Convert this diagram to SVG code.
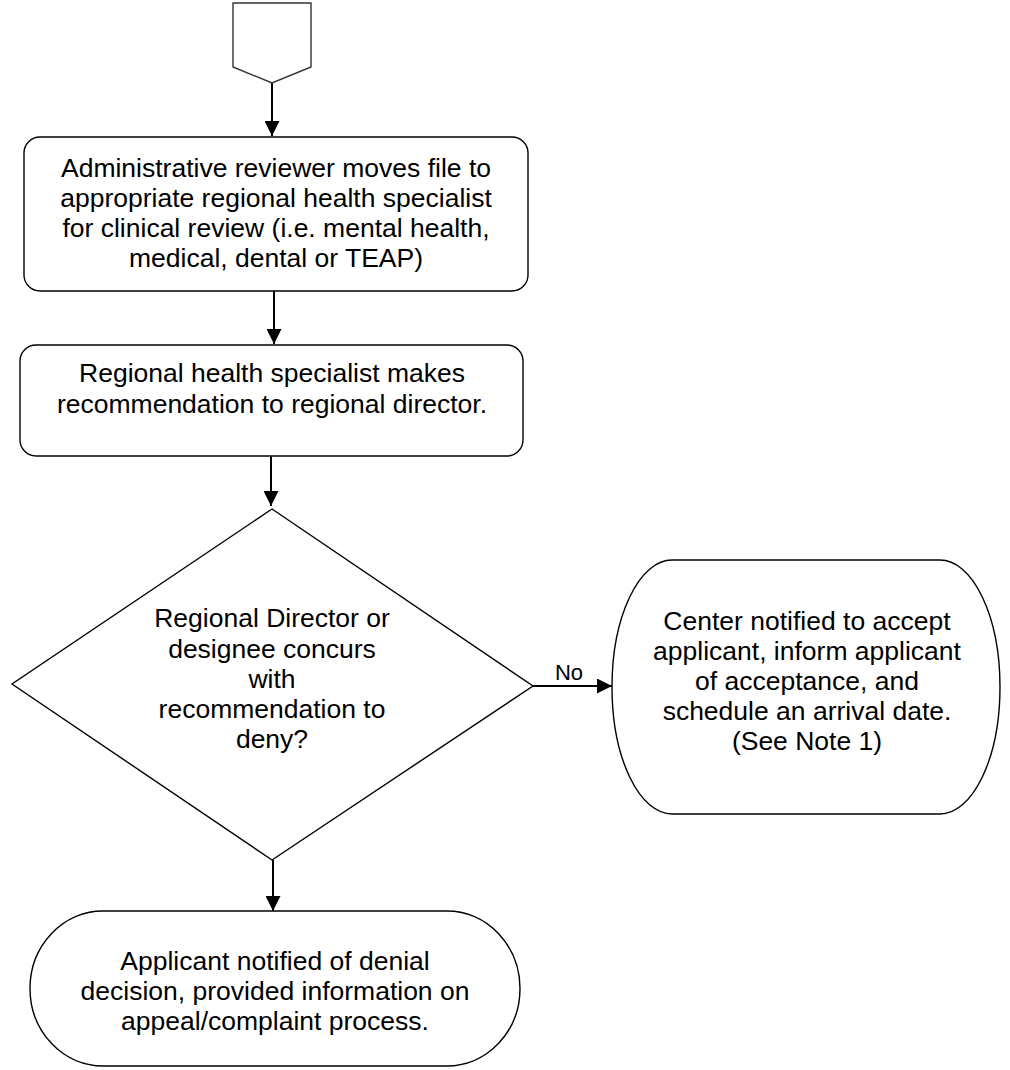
<svg xmlns="http://www.w3.org/2000/svg" width="1010" height="1070" viewBox="0 0 1010 1070">
<style>
.s{fill:#fff;stroke:#000;stroke-width:1.4}
.t{font-family:"Liberation Sans",Arial,sans-serif;font-size:26.5px;fill:#000;text-anchor:middle}
.c{stroke:#000;stroke-width:2;fill:none}
</style>
<defs>
<marker id="ah" markerWidth="15" markerHeight="15" refX="15" refY="7.5" orient="auto" markerUnits="userSpaceOnUse">
<path d="M0,0 L15,7.5 L0,15 Z" fill="#000"/>
</marker>
</defs>
<rect width="1010" height="1070" fill="#fff"/>
<g id="connectors">
<line class="c" x1="272" y1="83" x2="272" y2="136" marker-end="url(#ah)"/>
<line class="c" x1="274" y1="291" x2="274" y2="344" marker-end="url(#ah)"/>
<line class="c" x1="271" y1="456" x2="271" y2="506" marker-end="url(#ah)"/>
<line class="c" x1="533" y1="686" x2="612" y2="686" marker-end="url(#ah)"/>
<text class="t" x="569" y="680" style="font-size:22px">No</text>
<line class="c" x1="273" y1="860" x2="273" y2="911" marker-end="url(#ah)"/>
</g>
<g id="offpage">
<path class="s" d="M233,3 L311,3 L311,67 L272,83 L233,67 Z" style="stroke:#333"/>
</g>
<g id="box1">
<rect class="s" x="24" y="137" width="504" height="154" rx="16"/>
<text class="t" x="276" y="177">Administrative reviewer moves file to</text>
<text class="t" x="276" y="207">appropriate regional health specialist</text>
<text class="t" x="276" y="237">for clinical review (i.e. mental health,</text>
<text class="t" x="276" y="267">medical, dental or TEAP)</text>
</g>
<g id="box2">
<rect class="s" x="20" y="345" width="503" height="111" rx="16"/>
<text class="t" x="272" y="382">Regional health specialist makes</text>
<text class="t" x="272" y="413">recommendation to regional director.</text>
</g>
<g id="decision">
<path class="s" d="M272,509 L533,686 L272,860 L12,684 Z"/>
<text class="t" x="272" y="627">Regional Director or</text>
<text class="t" x="272" y="658">designee concurs</text>
<text class="t" x="272" y="688">with</text>
<text class="t" x="272" y="718">recommendation to</text>
<text class="t" x="272" y="748">deny?</text>
</g>
<g id="accept">
<path class="s" d="M672,560 L940,560 A60,127 0 0 1 940,814 L672,814 A60,127 0 0 1 672,560 Z"/>
<text class="t" x="807" y="630">Center notified to accept</text>
<text class="t" x="807" y="660">applicant, inform applicant</text>
<text class="t" x="807" y="690">of acceptance, and</text>
<text class="t" x="807" y="720">schedule an arrival date.</text>
<text class="t" x="807" y="750">(See Note 1)</text>
</g>
<g id="deny">
<path class="s" d="M103,911 L447,911 A73,77.5 0 0 1 447,1066 L103,1066 A73,77.5 0 0 1 103,911 Z"/>
<text class="t" x="275" y="970">Applicant notified of denial</text>
<text class="t" x="275" y="1000">decision, provided information on</text>
<text class="t" x="275" y="1030">appeal/complaint process.</text>
</g>
</svg>
